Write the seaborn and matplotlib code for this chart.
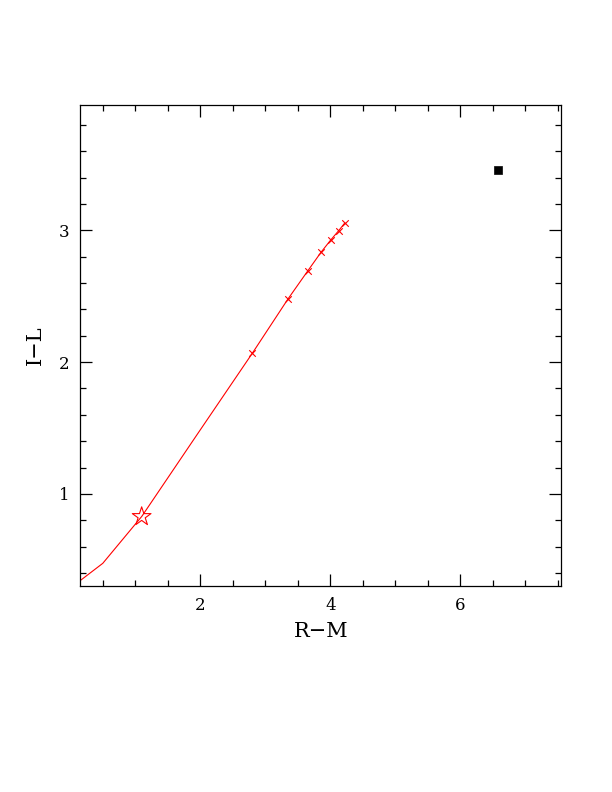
import matplotlib
matplotlib.use("Agg")
import matplotlib.pyplot as plt
from matplotlib.ticker import MultipleLocator
import seaborn as sns
import pandas as pd

# Data
line_x = [0.15, 0.50, 1.10, 1.95, 2.80, 3.345, 3.652, 3.857, 4.006, 4.129, 4.222]
line_y = [0.342, 0.474, 0.830, 1.450, 2.067, 2.476, 2.691, 2.833, 2.926, 2.997, 3.055]
cross_x = [2.80, 3.345, 3.652, 3.857, 4.006, 4.129, 4.222]
cross_y = [2.067, 2.476, 2.691, 2.833, 2.926, 2.997, 3.055]
star_x = [1.098]
star_y = [0.828]
square_x = [6.585]
square_y = [3.457]

sns.set_style("ticks")
plt.rcParams['font.family'] = ['DejaVu Serif']
plt.rcParams['text.color'] = 'black'
plt.rcParams['axes.labelcolor'] = 'black'
plt.rcParams['xtick.color'] = 'black'
plt.rcParams['ytick.color'] = 'black'

fig = plt.figure(figsize=(6.12, 7.92), dpi=100)
ax = fig.add_axes([0.1312, 0.2601, 0.786, 0.6073])

df_line = pd.DataFrame({"x": line_x, "y": line_y})
sns.lineplot(data=df_line, x="x", y="y", sort=False, color="red", lw=0.8, ax=ax)
sns.scatterplot(x=cross_x, y=cross_y, marker="x", color="red", s=22, linewidth=0.8, ax=ax, zorder=3)
sns.scatterplot(x=star_x, y=star_y, marker="*", s=200, facecolor="none", edgecolor="red", linewidth=0.8, ax=ax, zorder=3)
sns.scatterplot(x=square_x, y=square_y, marker="s", s=36, color="black", edgecolor="black", ax=ax, zorder=3)

ax.set_xlim(0.154, 7.554)
ax.set_ylim(0.302, 3.95)
ax.xaxis.set_major_locator(MultipleLocator(2))
ax.xaxis.set_minor_locator(MultipleLocator(0.5))
ax.yaxis.set_major_locator(MultipleLocator(1))
ax.yaxis.set_minor_locator(MultipleLocator(0.2))
ax.tick_params(which="both", direction="in", top=True, right=True, width=0.9,
               colors="black", labelcolor="black")
ax.tick_params(which="major", length=8.6, labelsize=12, pad=8)
ax.tick_params(which="minor", length=4.3)
for s in ax.spines.values():
    s.set_linewidth(0.9)
    s.set_color("black")
    s.set_visible(True)

ax.set_xlabel("R\u2212M", fontsize=15, labelpad=6, color="black")
ax.set_ylabel("I\u2212L", fontsize=15, labelpad=10, color="black")

fig.savefig("out.png", dpi=100)
